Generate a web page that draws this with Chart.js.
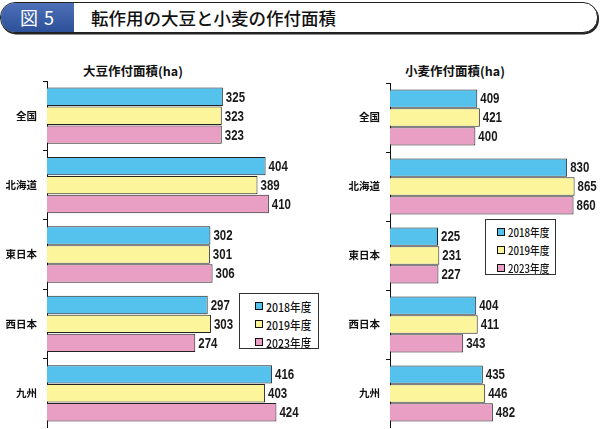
<!DOCTYPE html>
<html lang="ja">
<head>
<meta charset="utf-8">
<script src="https://cdn.jsdelivr.net/npm/chart.js@4.4.1/dist/chart.umd.min.js"></script>
<style>
  body { margin: 0; background: #fff; font-family: 'Noto Sans CJK JP', sans-serif; }
  #page { position: relative; width: 600px; height: 429px; overflow: hidden; }
  .header { position: absolute; left: 0; top: 2px; width: 596px; height: 29px; border: 1.5px solid #222;
            border-radius: 15px; box-shadow: 1px 1.5px 0 #222; overflow: hidden; background: #fff; }
  .header .num { position: absolute; left: 0; top: 0; width: 73px; height: 100%;
                 background: linear-gradient(#4d70b8, #2d5198); color: #fff; font-size: 18px;
                 line-height: 29px; text-align: center; letter-spacing: 1px; }
  .header .ttl { position: absolute; left: 90px; top: 0; font-size: 17.5px; line-height: 29px; color: #111; font-weight: 500; }
  .ctitle { position: absolute; top: 61px; font-size: 12.5px; font-weight: bold; color: #111; white-space: nowrap; transform: translateX(-50%); }
  .box { position: absolute; }
  .legend { position: absolute; border: 1px solid #333; background: #fff; box-sizing: border-box; padding-top: 3px; }
  .legend .row { display: flex; align-items: center; height: 18px; white-space: nowrap; color: #111; font-weight: 500; }
  .legend .mk { width: 6px; height: 6px; border: 1px solid #111; margin-right: 3px; flex: none; }
  .legend .tx { display: inline-block; transform: scaleX(0.88); transform-origin: left center; }
</style>
</head>
<body>
<div id="page">
  <div class="header"><div class="num">図 5</div><div class="ttl">転作用の大豆と小麦の作付面積</div></div>
  <div class="ctitle" style="left:133px">大豆作付面積(ha)</div>
  <div class="ctitle" style="left:455px">小麦作付面積(ha)</div>
  <div class="box" style="left:0; top:81px; width:330px; height:347px;"><canvas id="soyChart"></canvas></div>
  <div class="box" style="left:330px; top:83px; width:270px; height:345px;"><canvas id="wheatChart"></canvas></div>
  <div class="legend" id="soyLegend" style="left:239px; top:293px; width:80px; height:56px; padding-left:15px; font-size:12px;"></div>
  <div class="legend" id="wheatLegend" style="left:485px; top:219px; width:71px; height:56px; padding-left:11px; font-size:11px;"></div>
</div>
<script>
const regions = ['全国', '北海道', '東日本', '西日本', '九州'];
const years = ['2018年度', '2019年度', '2023年度'];
const colors = ['#55c2ee', '#fdf59c', '#e89fc3'];

const soy2018 = [325, 404, 302, 297, 416];
const soy2019 = [323, 389, 301, 303, 403];
const soy2023 = [323, 410, 306, 274, 424];

const wheat2018 = [409, 830, 225, 404, 435];
const wheat2019 = [421, 865, 231, 411, 446];
const wheat2023 = [400, 860, 227, 343, 482];

// draws the value at the end of every bar (squeezed a bit, the original uses a condensed face)
const valueLabels = {
  id: 'valueLabels',
  afterDatasetsDraw(chart) {
    const ctx = chart.ctx;
    const squeeze = 0.82;
    ctx.save();
    ctx.font = "bold 14px 'Liberation Sans', Arial, sans-serif";
    ctx.fillStyle = '#1a1a1a';
    ctx.textBaseline = 'middle';
    chart.data.datasets.forEach(function(ds, i) {
      chart.getDatasetMeta(i).data.forEach(function(bar, j) {
        ctx.save();
        ctx.translate(bar.x + 3, bar.y + 1);
        ctx.scale(squeeze, 1);
        ctx.fillText(ds.data[j], 0, 0);
        ctx.restore();
      });
    });
    ctx.restore();
  }
};

function makeChart(id, series, axisWidth, xMax) {
  const ctx = document.getElementById(id).getContext('2d');
  return new Chart(ctx, {
    type: 'bar',
    data: {
      labels: regions,
      datasets: series.map(function(values, i) {
        return {
          label: years[i],
          data: values,
          backgroundColor: colors[i],
          borderColor: '#222',
          borderWidth: 1,
          categoryPercentage: 0.82,
          barPercentage: 0.97
        };
      })
    },
    options: {
      indexAxis: 'y',
      responsive: true,
      maintainAspectRatio: false,
      animation: false,
      layout: { padding: 0 },
      plugins: {
        legend: { display: false },
        title: { display: false },
        tooltip: { enabled: false }
      },
      scales: {
        x: { display: false, min: 0, max: xMax },
        y: {
          grid: { drawOnChartArea: false, tickLength: 4, color: '#111', offset: true },
          border: { display: true, color: '#111', width: 1 },
          ticks: {
            color: '#111',
            padding: 6,
            font: { size: 10.5, weight: 'bold', family: "'Noto Sans CJK JP', sans-serif" }
          },
          afterFit: function(scale) {
            scale.width = axisWidth;
            // no room reserved for half label heights, the box sizes the plot
            scale.paddingTop = 0;
            scale.paddingBottom = 0;
          }
        }
      }
    },
    plugins: [valueLabels]
  });
}

function buildLegend(id) {
  const el = document.getElementById(id);
  years.forEach(function(name, i) {
    const row = document.createElement('div');
    row.className = 'row';
    row.innerHTML = '<span class="mk" style="background:' + colors[i] + '"></span><span class="tx">' + name + '</span>';
    el.appendChild(row);
  });
}

makeChart('soyChart', [soy2018, soy2019, soy2023], 47, 523);
makeChart('wheatChart', [wheat2018, wheat2019, wheat2023], 60, 984);
buildLegend('soyLegend');
buildLegend('wheatLegend');
</script>
</body>
</html>
